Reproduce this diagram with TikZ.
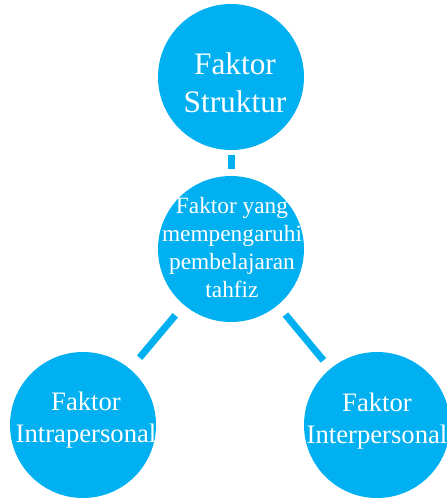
\documentclass[tikz,border=0pt]{standalone}
\usepackage{fontspec}
\setmainfont{Liberation Serif}
\definecolor{skyblue}{RGB}{0,176,240}
\tikzset{
	bubble/.style={circle,fill=skyblue,minimum size=109.5pt,inner sep=0pt},
	caption/.style={anchor=base,align=center,text=white,inner sep=0pt},
	link/.style={draw=skyblue,line width=5.25pt}
}

\begin{document}
\begin{tikzpicture}[x=0.75pt,y=-0.75pt]
	\useasboundingbox (0,0) rectangle (446,499);
	\node[bubble] (struktur) at (231,77) {};
	\node[bubble] (faktor) at (231,249) {};
	\node[bubble] (intra) at (83,425) {};
	\node[bubble] (inter) at (377,425) {};
	\node[caption,font=\fontsize{23.5pt}{28.5pt}\selectfont] (struktur text) at (235,113) {Faktor\\Struktur};
	\node[caption,font=\fontsize{17.5pt}{21pt}\selectfont] (faktor text) at (232,297) {Faktor yang\\mempengaruhi\\pembelajaran\\tahfiz};
	\node[caption,font=\fontsize{20pt}{24pt}\selectfont] (intra text) at (86,442) {Faktor\\Intrapersonal};
	\node[caption,font=\fontsize{20pt}{24pt}\selectfont] (inter text) at (377,443) {Faktor\\Interpersonal};
	\draw[link,shorten <=3.75pt,shorten >=5.25pt] (struktur) -- (faktor);
	\draw[link,shorten <=10pt,shorten >=11pt] (faktor) -- (intra);
	\draw[link,shorten <=9pt,shorten >=8pt] (faktor) -- (inter);
\end{tikzpicture}
\end{document}
